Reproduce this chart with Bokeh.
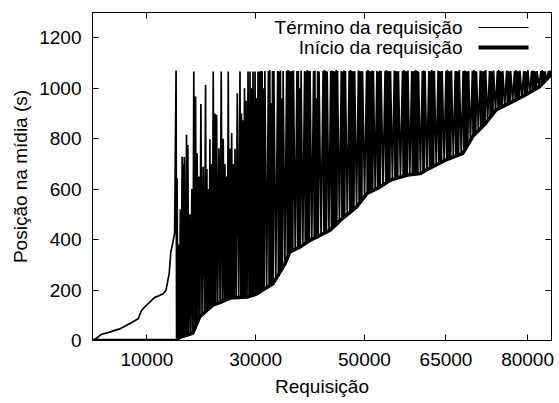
from bokeh.plotting import figure
from bokeh.models import (Range1d, FixedTicker, LinearAxis, Label, BoxAnnotation,
                          CustomJSTickFormatter)
from bokeh.embed import file_html
from bokeh.resources import INLINE

# ---------------- data ----------------
# "Início da requisição" (start position, thick line)
inicio_x = [0, 15500, 16000, 18400, 19700, 22100, 23400, 25300, 28400, 29500, 30200,
            33200, 35400, 36300, 38200, 40000, 43700, 45600, 48600, 50500, 52900,
            54800, 57900, 60300, 61300, 64900, 68100, 69900, 72300, 74200, 76600,
            79100, 82200, 84400]
inicio_y = [0, 0, 13, 28, 93, 140, 150, 168, 172, 179, 185,
            225, 305, 351, 371, 397, 437, 477, 530, 583, 609,
            636, 656, 662, 675, 715, 742, 808, 861, 914, 940,
            967, 1006, 1056]

# "Término da requisição" (end position, thin line) - first requests
termino_x_a = [0, 800, 1600, 3100, 5000, 6800, 8400, 9000, 9900, 11400, 13000, 13500,
               14100, 14400, 14800, 15100]
termino_y_a = [0, 10, 24, 33, 46, 66, 86, 119, 139, 170, 185, 199,
               265, 351, 391, 424]

# Término - first spiky zone
termino_x_b = [15370, 15460, 15550, 15700, 15850, 16000, 16150, 16300, 16480, 16590,
               16700, 16790, 16880, 17080, 17290, 17410, 17530, 17710, 17900, 18080,
               18270, 18450, 18630, 18790, 18950, 19100, 19240, 19400, 19560, 19750,
               19930, 20140, 20350, 20570, 20790, 20910, 21030, 21170, 21310, 21450,
               21590, 21720, 21860, 22030, 22200, 22350, 22510, 22660, 22820, 23030,
               23250, 23460, 23670, 23850, 24040, 24200, 24350, 24490, 24630, 24800,
               24960, 25120, 25280, 25430, 25590, 25750, 25920, 26060, 26200, 26410,
               26620, 26870, 27120, 27260, 27400, 27510, 27620, 27780, 27950, 28090,
               28230, 28420, 28600, 28780, 28970, 29100, 29240, 29380, 29520, 29700,
               29890, 30030, 30170, 30300, 30440, 30580, 30720]
termino_y_b = [1070, 5, 643, 3, 380, 8, 520, 10, 728, 12,
               700, 12, 727, 14, 815, 17, 775, 20, 500, 23,
               600, 28, 1066, 40, 967, 58, 742, 78, 650, 93,
               937, 100, 689, 108, 1013, 113, 680, 118, 600, 122,
               798, 128, 700, 136, 1066, 141, 900, 143, 895, 146,
               762, 150, 1066, 152, 800, 156, 700, 158, 650, 162,
               1066, 165, 760, 168, 822, 168, 700, 169, 760, 169,
               980, 170, 1066, 170, 900, 171, 873, 171, 1000, 171,
               950, 172, 1066, 174, 1066, 177, 1000, 178, 1066, 181,
               1066, 184, 960, 186, 1066, 188, 1066]

# Término - dense zone
termino_x_c = [
    30835, 30950, 31075, 31200, 31325, 31450, 31575, 31700,
    32025, 32350, 32475, 32600, 32725, 32850, 32975, 33100, 33225, 33350,
    33700, 34050, 34175, 34300, 34425, 34550, 34675, 34800, 34925, 35050,
    35375, 35700, 35825, 35950, 36075, 36200, 36325, 36450, 36575, 36700, 36825, 36950,
    37275, 37600, 37725, 37850, 37975, 38100, 38225, 38350,
    38675, 39000, 39125, 39250, 39375, 39500, 39625, 39750, 39875, 40000,
    40325, 40650, 40775, 40900, 41025, 41150, 41275, 41400, 41525, 41650,
    42025, 42400, 42525, 42650, 42775, 42900, 43025, 43150,
    43475, 43800, 43925, 44050, 44175, 44300, 44425, 44550, 44675, 44800, 44925, 45050,
    45400, 45750, 45875, 46000, 46125, 46250, 46375, 46500,
    46850, 47200, 47325, 47450, 47575, 47700, 47825, 47950, 48075, 48200,
    48550, 48900, 49025, 49150, 49275, 49400, 49525, 49650,
    50025, 50400, 50525, 50650, 50775, 50900, 51025, 51150, 51275, 51400, 51525, 51650,
    51975, 52300, 52425, 52550, 52675, 52800, 52925, 53050,
    53425, 53800, 53925, 54050, 54175, 54300, 54425, 54550, 54675, 54800,
    55150, 55500, 55625, 55750, 55875, 56000, 56125, 56250,
    56625, 57000, 57125, 57250, 57375, 57500, 57625, 57750, 57875, 58000,
    58350, 58700, 58825, 58950, 59075, 59200, 59325, 59450, 59575, 59700, 59825, 59950,
    60300, 60650, 60775, 60900, 61025, 61150,
    61500, 61850, 61975, 62100, 62225, 62350, 62475, 62600, 62725, 62850,
    63200, 63550, 63675, 63800, 63925, 64050, 64175, 64300,
    64650, 65000, 65125, 65250, 65375, 65500, 65625, 65750, 65875, 66000,
    66350, 66700, 66825, 66950, 67075, 67200, 67325, 67450,
    67800, 68150, 68275, 68400, 68525, 68650, 68775, 68900, 69025, 69150,
    69500, 69850, 69975, 70100, 70225, 70350, 70475, 70600,
    70950, 71300, 71425, 71550, 71675, 71800, 71925, 72050, 72175, 72300,
    72650, 73000, 73125, 73250, 73375, 73500, 73625, 73750,
    74100, 74450, 74575, 74700, 74825, 74950, 75075, 75200, 75325, 75450,
    75800, 76150, 76275, 76400, 76525, 76650, 76775, 76900,
    77250, 77600, 77725, 77850, 77975, 78100, 78225, 78350, 78475, 78600,
    78950, 79300, 79425, 79550, 79675, 79800, 79925, 80050,
    80400, 80750, 80875, 81000, 81125, 81250, 81375, 81500, 81625, 81750,
    82100, 82450, 82575, 82700, 82825, 82950, 83075, 83200,
    83525, 83850, 83975, 84100, 84225, 84350]
termino_y_c = [
    193, 1068, 197, 1068, 200, 1000, 203, 1068,
    209, 1068, 215, 1072, 219, 940, 222, 1068, 226, 1068,
    243, 1068, 253, 1066, 262, 1070, 271, 960, 280, 1068,
    304, 1068, 327, 1072, 340, 1068, 351, 1066, 354, 1068, 356, 1070,
    361, 1068, 366, 1068, 369, 1000, 371, 1070,
    378, 1068, 384, 1066, 388, 1072, 392, 1068, 395, 1068,
    401, 1068, 405, 1070, 408, 960, 411, 1068, 413, 1066,
    419, 1068, 424, 1072, 427, 1068, 430, 1066,
    434, 1068, 442, 1070, 447, 1068, 452, 1066, 458, 1072, 463, 1068,
    473, 1068, 482, 1066, 486, 1070, 491, 1068,
    499, 1068, 507, 1072, 512, 1068, 516, 1066, 521, 1068,
    529, 1070, 542, 1068, 549, 1066, 556, 1068,
    570, 1068, 583, 1072, 586, 1068, 589, 1066, 591, 1070, 594, 1068,
    599, 1068, 604, 1066, 607, 1070, 609, 1068,
    616, 1068, 624, 1072, 627, 1068, 631, 1066, 634, 1068,
    638, 1070, 641, 1068, 643, 1066, 644, 1068,
    648, 1068, 651, 1072, 653, 1068, 654, 1066, 656, 1070,
    657, 1068, 658, 1066, 659, 1068, 659, 1072, 660, 1068, 661, 1066,
    662, 1068, 668, 1070, 671, 1068,
    677, 1068, 683, 1066, 685, 1072, 688, 1068, 691, 1068,
    696, 1070, 700, 1068, 703, 1066, 706, 1068,
    712, 1068, 717, 1072, 719, 1068, 721, 1066, 723, 1070,
    727, 1068, 731, 1068, 733, 1066, 735, 1072,
    740, 1068, 748, 1070, 758, 1068, 767, 1066, 776, 1068,
    793, 1068, 810, 1072, 815, 1068, 821, 1066,
    831, 1070, 842, 1068, 847, 1066, 853, 1068, 858, 1072,
    871, 1068, 884, 1068, 891, 1066, 898, 1070,
    911, 1068, 918, 1072, 921, 1068, 924, 1066, 926, 1068,
    931, 1070, 936, 1068, 939, 1066, 942, 1068,
    947, 1068, 952, 1072, 955, 1068, 957, 1066, 960, 1070,
    965, 1068, 971, 1068, 974, 1066, 977, 1072,
    983, 1068, 990, 1070, 993, 1068, 996, 1066, 999, 1068,
    1005, 1068, 1015, 1072, 1020, 1068, 1026, 1066,
    1033, 1068, 1046, 1070, 1052, 1068]

x_ticks = [10000, 30000, 50000, 65000, 80000]
y_ticks = [0, 200, 400, 600, 800, 1000, 1200]
x_label = "Requisição"
y_label = "Posição na mídia (s)"
series_names = ["Término da requisição", "Início da requisição"]

# ---------------- figure ----------------
FONT = "Liberation Sans"
FS = "19px"

p = figure(width=559, height=403, output_backend="svg", toolbar_location=None,
           x_range=Range1d(0, 84400), y_range=Range1d(0, 1300),
           min_border_left=92, min_border_right=8, min_border_top=12,
           min_border_bottom=63)
p.background_fill_color = "white"
p.border_fill_color = "white"
p.outline_line_color = "black"
p.outline_line_width = 1
p.xgrid.visible = False
p.ygrid.visible = False

termino_x = termino_x_a + termino_x_b + termino_x_c
termino_y = termino_y_a + termino_y_b + termino_y_c

p.line(termino_x, termino_y, line_color="black", line_width=1.7)
p.line(inicio_x, inicio_y, line_color="black", line_width=3.5)

for ax in (p.xaxis[0], p.yaxis[0]):
    ax.major_tick_in = 6
    ax.major_tick_out = 0
    ax.minor_tick_in = 0
    ax.minor_tick_out = 0
    ax.axis_line_color = "black"
    ax.major_tick_line_color = "black"
    ax.major_label_text_font = FONT
    ax.major_label_text_font_size = FS
    ax.major_label_text_color = "black"
    ax.axis_label_text_font = FONT
    ax.axis_label_text_font_size = FS
    ax.axis_label_text_font_style = "normal"
    ax.axis_label_text_color = "black"

p.xaxis[0].ticker = FixedTicker(ticks=x_ticks)
p.yaxis[0].ticker = FixedTicker(ticks=y_ticks)
p.xaxis[0].axis_label = x_label
p.yaxis[0].axis_label = y_label
p.xaxis[0].major_label_standoff = 12
p.xaxis[0].axis_label_standoff = 7
p.yaxis[0].major_label_standoff = 11
p.yaxis[0].axis_label_standoff = 5

# mirrored tick marks (top and right), no labels
blank = CustomJSTickFormatter(code="return ''")
top_ax = LinearAxis(ticker=FixedTicker(ticks=x_ticks), formatter=blank,
                    major_tick_in=6, major_tick_out=0, minor_tick_in=0, minor_tick_out=0,
                    major_label_standoff=0, axis_line_color="black",
                    major_tick_line_color="black")
right_ax = LinearAxis(ticker=FixedTicker(ticks=y_ticks), formatter=blank,
                      major_tick_in=6, major_tick_out=0, minor_tick_in=0, minor_tick_out=0,
                      major_label_standoff=0, axis_line_color="black",
                      major_tick_line_color="black")
p.add_layout(top_ax, "above")
p.add_layout(right_ax, "right")

# gnuplot-style key: right-aligned text, sample on its right
key_rows = [(series_names[0], 313, 1.2), (series_names[1], 293, 4.0)]
for name, yy, lw in key_rows:
    p.add_layout(Label(x=370, y=yy, x_units="screen", y_units="screen", text=name,
                       text_font=FONT, text_font_size=FS, text_color="black",
                       text_align="right", text_baseline="middle"))
    p.add_layout(BoxAnnotation(left=386, right=436, bottom=yy - lw / 2, top=yy + lw / 2,
                               left_units="screen", right_units="screen",
                               bottom_units="screen", top_units="screen",
                               fill_color="black", fill_alpha=1.0, line_color=None))

open("out.html", "w").write(file_html(p, INLINE))
